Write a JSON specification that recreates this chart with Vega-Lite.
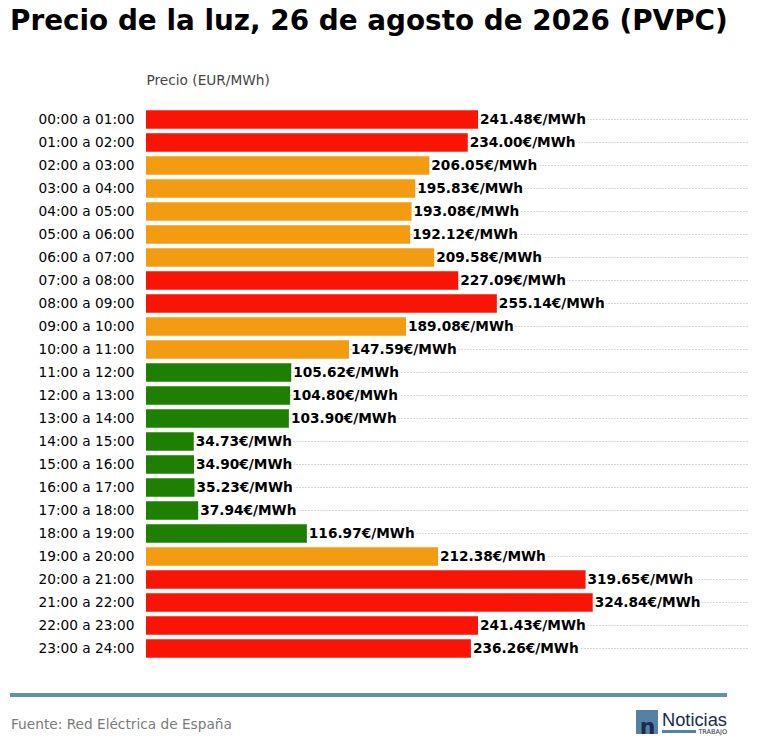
{
  "$schema": "https://vega.github.io/schema/vega-lite/v6.json",
  "padding": {"left": 8, "top": 8, "right": 10, "bottom": 10},
  "title": {
    "text": "Precio de la luz, 26 de agosto de 2026 (PVPC)",
    "anchor": "start",
    "frame": "bounds",
    "dx": 2,
    "font": "DejaVu Sans",
    "fontSize": 27.85,
    "fontWeight": "bold",
    "color": "#000000",
    "offset": 37
  },
  "config": {
    "view": {"stroke": null},
    "font": "DejaVu Sans",
    "concat": {"spacing": 20}
  },
  "vconcat": [
    {
      "width": 603,
      "height": 552,
      "data": {
        "values": [
          {"hora": "00:00 a 01:00", "precio": 241.48, "nivel": "alto"},
          {"hora": "01:00 a 02:00", "precio": 234.00, "nivel": "alto"},
          {"hora": "02:00 a 03:00", "precio": 206.05, "nivel": "medio"},
          {"hora": "03:00 a 04:00", "precio": 195.83, "nivel": "medio"},
          {"hora": "04:00 a 05:00", "precio": 193.08, "nivel": "medio"},
          {"hora": "05:00 a 06:00", "precio": 192.12, "nivel": "medio"},
          {"hora": "06:00 a 07:00", "precio": 209.58, "nivel": "medio"},
          {"hora": "07:00 a 08:00", "precio": 227.09, "nivel": "alto"},
          {"hora": "08:00 a 09:00", "precio": 255.14, "nivel": "alto"},
          {"hora": "09:00 a 10:00", "precio": 189.08, "nivel": "medio"},
          {"hora": "10:00 a 11:00", "precio": 147.59, "nivel": "medio"},
          {"hora": "11:00 a 12:00", "precio": 105.62, "nivel": "bajo"},
          {"hora": "12:00 a 13:00", "precio": 104.80, "nivel": "bajo"},
          {"hora": "13:00 a 14:00", "precio": 103.90, "nivel": "bajo"},
          {"hora": "14:00 a 15:00", "precio": 34.73, "nivel": "bajo"},
          {"hora": "15:00 a 16:00", "precio": 34.90, "nivel": "bajo"},
          {"hora": "16:00 a 17:00", "precio": 35.23, "nivel": "bajo"},
          {"hora": "17:00 a 18:00", "precio": 37.94, "nivel": "bajo"},
          {"hora": "18:00 a 19:00", "precio": 116.97, "nivel": "bajo"},
          {"hora": "19:00 a 20:00", "precio": 212.38, "nivel": "medio"},
          {"hora": "20:00 a 21:00", "precio": 319.65, "nivel": "alto"},
          {"hora": "21:00 a 22:00", "precio": 324.84, "nivel": "alto"},
          {"hora": "22:00 a 23:00", "precio": 241.43, "nivel": "alto"},
          {"hora": "23:00 a 24:00", "precio": 236.26, "nivel": "alto"}
        ]
      },
      "transform": [
        {"calculate": "format(datum.precio, '.2f') + '€/MWh'", "as": "etiqueta"}
      ],
      "encoding": {
        "y": {
          "field": "hora",
          "type": "nominal",
          "sort": null,
          "scale": {"paddingInner": 0.2, "paddingOuter": 0.1},
          "axis": {
            "title": null,
            "domain": false,
            "ticks": false,
            "labelPadding": 12,
            "labelFontSize": 13.7,
            "labelColor": "#000000",
            "grid": true,
            "gridDash": [1, 2],
            "gridColor": "#9a9a9a",
            "gridWidth": 0.8,
            "bandPosition": 0.5,
            "minExtent": 136
          }
        },
        "x": {
          "field": "precio",
          "type": "quantitative",
          "scale": {"domain": [0, 438.5], "nice": false}
        }
      },
      "layer": [
        {
          "mark": {"type": "bar"},
          "encoding": {
            "x": {
              "field": "precio",
              "type": "quantitative",
              "axis": {
                "orient": "top",
                "title": "Precio (EUR/MWh)",
                "titleAnchor": "start",
                "titleAlign": "left",
                "titleFontSize": 13.7,
                "titleFontWeight": "normal",
                "titleColor": "#444444",
                "titlePadding": 21,
                "labels": false,
                "ticks": false,
                "domain": false,
                "grid": false
              }
            },
            "color": {
              "field": "nivel",
              "type": "nominal",
              "scale": {
                "domain": ["alto", "medio", "bajo"],
                "range": ["#f81506", "#f39c12", "#1f7f00"]
              },
              "legend": null
            }
          }
        },
        {
          "mark": {
            "type": "text",
            "align": "left",
            "baseline": "middle",
            "dx": 2,
            "fontSize": 13.7,
            "fontWeight": "bold",
            "fill": "white",
            "stroke": "white",
            "strokeWidth": 4,
            "strokeJoin": "round"
          },
          "encoding": {"text": {"field": "etiqueta"}}
        },
        {
          "mark": {
            "type": "text",
            "align": "left",
            "baseline": "middle",
            "dx": 2,
            "fontSize": 13.7,
            "fontWeight": "bold",
            "color": "#000000"
          },
          "encoding": {"text": {"field": "etiqueta"}}
        }
      ]
    },
    {
      "width": 581,
      "height": 56,
      "data": {"values": [{}]},
      "encoding": {
        "x": {"datum": 0, "type": "quantitative", "scale": {"domain": [0, 581], "nice": false, "zero": false}, "axis": null},
        "y": {"datum": 0, "type": "quantitative", "scale": {"domain": [0, 56], "nice": false, "zero": false, "reverse": true}, "axis": null}
      },
      "layer": [
        {
          "mark": {"type": "rule", "color": "#5f92ab", "strokeWidth": 4},
          "encoding": {
            "x": {"datum": -136, "type": "quantitative"},
            "x2": {"datum": 581},
            "y": {"datum": 15, "type": "quantitative"}
          }
        },
        {
          "mark": {"type": "text", "align": "left", "baseline": "middle", "fontSize": 13.7, "color": "#7a7a7a", "text": "Fuente: Red Eléctrica de España"},
          "encoding": {
            "x": {"datum": -135, "type": "quantitative"},
            "y": {"datum": 45, "type": "quantitative"}
          }
        },
        {
          "mark": {"type": "rect", "color": "#5382a6"},
          "encoding": {
            "x": {"datum": 490, "type": "quantitative"},
            "x2": {"datum": 512},
            "y": {"datum": 30, "type": "quantitative"},
            "y2": {"datum": 54}
          }
        },
        {
          "mark": {"type": "text", "align": "center", "baseline": "alphabetic", "fontSize": 22, "fontWeight": "bold", "color": "#1b2b48", "text": "n"},
          "encoding": {
            "x": {"datum": 501.5, "type": "quantitative"},
            "y": {"datum": 54, "type": "quantitative"}
          }
        },
        {
          "mark": {"type": "text", "align": "right", "baseline": "alphabetic", "fontSize": 18.3, "font": "Liberation Sans", "color": "#1b2b48", "text": "Noticias"},
          "encoding": {
            "x": {"datum": 581, "type": "quantitative"},
            "y": {"datum": 46, "type": "quantitative"}
          }
        },
        {
          "mark": {"type": "rect", "color": "#5382a6"},
          "encoding": {
            "x": {"datum": 516, "type": "quantitative"},
            "x2": {"datum": 550},
            "y": {"datum": 50, "type": "quantitative"},
            "y2": {"datum": 53}
          }
        },
        {
          "mark": {"type": "text", "align": "right", "baseline": "alphabetic", "fontSize": 6.5, "color": "#1b2b48", "text": "TRABAJO"},
          "encoding": {
            "x": {"datum": 581, "type": "quantitative"},
            "y": {"datum": 54, "type": "quantitative"}
          }
        }
      ]
    }
  ]
}
